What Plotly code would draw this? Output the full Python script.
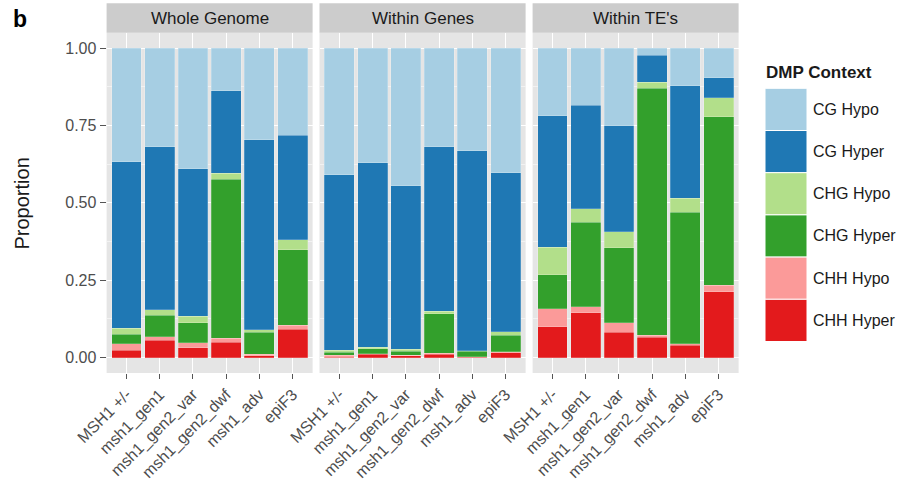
import plotly.graph_objects as go
from plotly.subplots import make_subplots

# Samples on the x axis of every facet
samples = ["MSH1 +/-", "msh1_gen1", "msh1_gen2_var", "msh1_gen2_dwf", "msh1_adv", "epiF3"]

# Facets
regions = ["Whole Genome", "Within Genes", "Within TE's"]

# Stacking order, bottom to top
contexts = ["CHH Hyper", "CHH Hypo", "CHG Hyper", "CHG Hypo", "CG Hyper", "CG Hypo"]
context_colors = ["#E31A1C", "#FB9A99", "#33A02C", "#B2DF8A", "#1F78B4", "#A6CEE3"]

# Proportion of DMPs in each context, per sample
whole_genome = {
    "CHH Hyper": [0.024, 0.056, 0.032, 0.050, 0.006, 0.091],
    "CHH Hypo":  [0.021, 0.011, 0.015, 0.012, 0.004, 0.014],
    "CHG Hyper": [0.031, 0.069, 0.065, 0.514, 0.072, 0.243],
    "CHG Hypo":  [0.018, 0.018, 0.022, 0.019, 0.007, 0.033],
    "CG Hyper":  [0.539, 0.528, 0.476, 0.267, 0.615, 0.337],
    "CG Hypo":   [0.367, 0.318, 0.390, 0.138, 0.296, 0.282],
}
within_genes = {
    "CHH Hyper": [0.001, 0.011, 0.006, 0.011, 0.001, 0.015],
    "CHH Hypo":  [0.006, 0.002, 0.002, 0.003, 0.002, 0.003],
    "CHG Hyper": [0.010, 0.016, 0.012, 0.128, 0.017, 0.054],
    "CHG Hypo":  [0.007, 0.005, 0.007, 0.008, 0.002, 0.011],
    "CG Hyper":  [0.567, 0.596, 0.529, 0.532, 0.647, 0.514],
    "CG Hypo":   [0.409, 0.370, 0.444, 0.318, 0.331, 0.403],
}
within_tes = {
    "CHH Hyper": [0.099, 0.144, 0.082, 0.065, 0.039, 0.212],
    "CHH Hypo":  [0.058, 0.020, 0.031, 0.007, 0.006, 0.022],
    "CHG Hyper": [0.111, 0.274, 0.242, 0.798, 0.425, 0.544],
    "CHG Hypo":  [0.089, 0.043, 0.051, 0.020, 0.045, 0.062],
    "CG Hyper":  [0.424, 0.335, 0.343, 0.087, 0.364, 0.064],
    "CG Hypo":   [0.219, 0.184, 0.251, 0.023, 0.121, 0.096],
}
region_data = [whole_genome, within_genes, within_tes]

y_ticks = [0, 0.25, 0.5, 0.75, 1.0]
y_tick_text = ["0.00", "0.25", "0.50", "0.75", "1.00"]

W, H = 904, 492
FONT = "Liberation Sans, Arial, sans-serif"
TEXT = "#1A1A1A"
AXIS_TEXT = "#4D4D4D"

# Panel geometry in pixels
panel_x = [(106.6, 312.6), (319.5, 525.6), (532.6, 738.6)]
panel_top, panel_bottom = 32.7, 373.0
strip_top = 3.3


def px_x(x):
    return x / W


def px_y(y):
    return (H - y) / H


fig = make_subplots(rows=1, cols=3, shared_yaxes=True, horizontal_spacing=0.01)

for col, data in enumerate(region_data, start=1):
    for ctx, color in zip(contexts, context_colors):
        fig.add_trace(
            go.Bar(
                x=samples,
                y=data[ctx],
                name=ctx,
                marker=dict(color=color, line=dict(color="rgba(255,255,255,0.35)", width=0.6)),
                width=0.9,
                showlegend=False,
                hovertemplate="%{x}<br>" + ctx + ": %{y:.3f}<extra></extra>",
            ),
            row=1,
            col=col,
        )

fig.update_layout(
    barmode="stack",
    width=W,
    height=H,
    margin=dict(l=0, r=0, t=0, b=0),
    paper_bgcolor="white",
    plot_bgcolor="#E5E5E5",
    font=dict(family=FONT, size=16, color=AXIS_TEXT),
    showlegend=False,
)

for i, (x0, x1) in enumerate(panel_x, start=1):
    xa = "xaxis" if i == 1 else f"xaxis{i}"
    ya = "yaxis" if i == 1 else f"yaxis{i}"
    fig.layout[xa].update(
        domain=[px_x(x0), px_x(x1)],
        range=[-0.6, 5.6],
        automargin=False,
        tickangle=-45,
        ticks="outside",
        ticklen=5,
        tickcolor="#555555",
        tickfont=dict(family=FONT, size=16, color=AXIS_TEXT),
        showgrid=True,
        gridcolor="white",
        gridwidth=1.1,
        zeroline=False,
        showline=False,
    )
    fig.layout[ya].update(
        domain=[px_y(panel_bottom), px_y(panel_top)],
        range=[-0.05, 1.05],
        automargin=False,
        tickvals=y_ticks,
        ticktext=y_tick_text,
        showticklabels=(i == 1),
        ticks="outside" if i == 1 else "",
        ticklen=6,
        tickcolor="#555555",
        tickfont=dict(family=FONT, size=16, color=AXIS_TEXT),
        showgrid=True,
        gridcolor="white",
        gridwidth=1.1,
        minor=dict(dtick=0.125, tick0=0, showgrid=True, gridcolor="#F2F2F2", gridwidth=0.6),
        zeroline=False,
        showline=False,
    )

shapes = []
annotations = []

# Facet strips
for (x0, x1), label in zip(panel_x, regions):
    shapes.append(dict(
        type="rect", xref="paper", yref="paper",
        x0=px_x(x0), x1=px_x(x1), y0=px_y(panel_top), y1=px_y(strip_top),
        fillcolor="#CCCCCC", line=dict(width=0), layer="below",
    ))
    annotations.append(dict(
        x=px_x((x0 + x1) / 2), y=px_y((strip_top + panel_top) / 2),
        xref="paper", yref="paper", text=label, showarrow=False,
        font=dict(family=FONT, size=17, color=TEXT), xanchor="center", yanchor="middle",
    ))

# Y axis title
annotations.append(dict(
    x=px_x(22), y=px_y(203.5), xref="paper", yref="paper", text="Proportion",
    textangle=-90, showarrow=False, font=dict(family=FONT, size=20, color=TEXT),
    xanchor="center", yanchor="middle",
))

# Panel letter
annotations.append(dict(
    x=px_x(19.5), y=px_y(19), xref="paper", yref="paper", text="<b>b</b>",
    showarrow=False, font=dict(family=FONT, size=23, color="black"),
    xanchor="center", yanchor="middle",
))

# Legend: title and keys, top entry is the top of the stack
key_x0, key_x1 = 765, 807
key_top, key_h = 88.3, 42.2
annotations.append(dict(
    x=px_x(key_x0 - 1), y=px_y(72.5), xref="paper", yref="paper", text="<b>DMP Context</b>",
    showarrow=False, font=dict(family=FONT, size=17, color=TEXT),
    xanchor="left", yanchor="middle",
))
for k, (ctx, color) in enumerate(zip(contexts[::-1], context_colors[::-1])):
    y0 = key_top + k * key_h
    shapes.append(dict(
        type="rect", xref="paper", yref="paper",
        x0=px_x(key_x0), x1=px_x(key_x1), y0=px_y(y0 + key_h), y1=px_y(y0),
        fillcolor=color, line=dict(color="white", width=1),
    ))
    annotations.append(dict(
        x=px_x(key_x1 + 4), y=px_y(y0 + key_h / 2), xref="paper", yref="paper", text=ctx,
        showarrow=False, font=dict(family=FONT, size=16, color=TEXT),
        xanchor="left", yanchor="middle",
    ))

fig.update_layout(shapes=shapes, annotations=annotations)

fig.write_html("out.html")
